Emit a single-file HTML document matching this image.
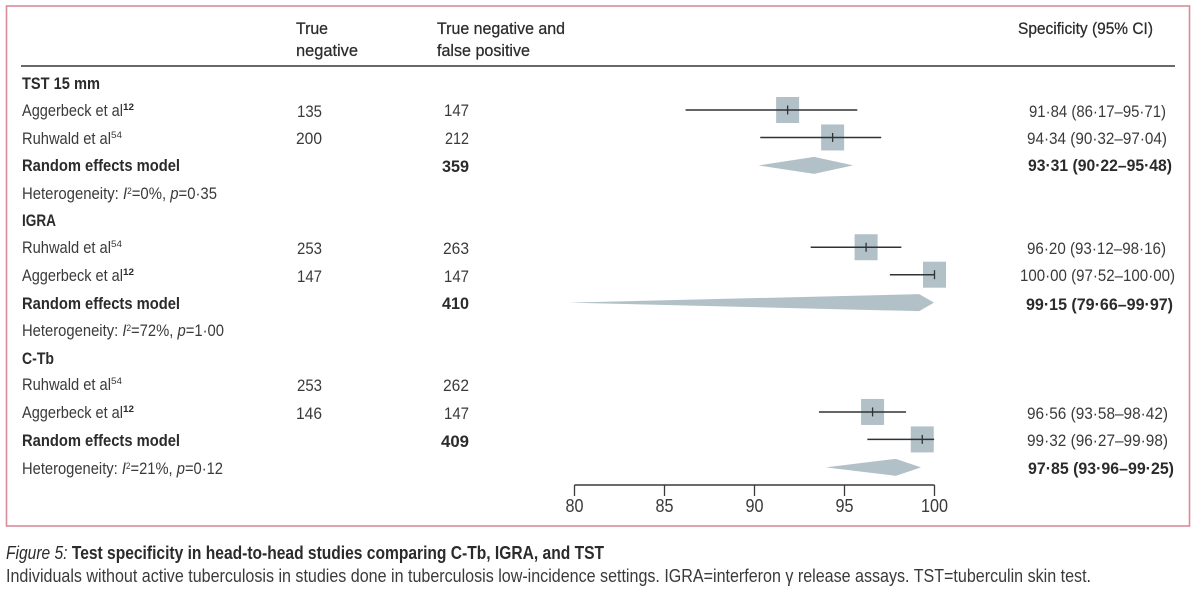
<!DOCTYPE html>
<html lang="en">
<head>
<meta charset="utf-8">
<title>Figure 5: Test specificity forest plot</title>
<style>
html,body{margin:0;padding:0;background:#fff;width:1200px;height:598px;overflow:hidden}
svg{display:block}
text{font-family:"Liberation Sans",sans-serif;font-size:17px;fill:#3a3a3a}
.h{fill:#2b2b2b;stroke:#2b2b2b;stroke-width:.25px}
.b{font-weight:bold;fill:#2b2b2b}
.s{font-size:9.5px}
.i{font-style:italic}
.c{font-size:18px}
</style>
</head>
<body>
<svg id="chart" xmlns="http://www.w3.org/2000/svg" width="1200" height="598" viewBox="0 0 1200 598">
<rect x="6.5" y="6" width="1183" height="520" fill="none" stroke="#d98c9a" stroke-width="1.6"/>
<line x1="21" x2="1175" y1="66" y2="66" stroke="#69696b" stroke-width="2"/>

<text class="h" x="296" y="34" textLength="32" lengthAdjust="spacingAndGlyphs">True</text>
<text class="h" x="296" y="56" textLength="62" lengthAdjust="spacingAndGlyphs">negative</text>
<text class="h" x="437" y="34" textLength="128" lengthAdjust="spacingAndGlyphs">True negative and</text>
<text class="h" x="437" y="56" textLength="93" lengthAdjust="spacingAndGlyphs">false positive</text>
<text class="h" x="1018" y="34" textLength="135" lengthAdjust="spacingAndGlyphs">Specificity (95% CI)</text>

<g>
<text class="b" x="22" y="89" textLength="78" lengthAdjust="spacingAndGlyphs">TST 15 mm</text>
<text x="22" y="116" textLength="101" lengthAdjust="spacingAndGlyphs">Aggerbeck et al</text>
<text class="s b" x="123" y="110" textLength="11" lengthAdjust="spacingAndGlyphs">12</text>
<text x="297" y="117" textLength="25" lengthAdjust="spacingAndGlyphs">135</text>
<text x="444" y="116" textLength="25" lengthAdjust="spacingAndGlyphs">147</text>
<text x="1029" y="117" textLength="137" lengthAdjust="spacingAndGlyphs">91·84 (86·17–95·71)</text>
<text x="22" y="144" textLength="89" lengthAdjust="spacingAndGlyphs">Ruhwald et al</text>
<text class="s" x="111" y="138" textLength="11" lengthAdjust="spacingAndGlyphs">54</text>
<text x="296" y="144" textLength="26" lengthAdjust="spacingAndGlyphs">200</text>
<text x="445" y="144" textLength="24" lengthAdjust="spacingAndGlyphs">212</text>
<text x="1027" y="144" textLength="140" lengthAdjust="spacingAndGlyphs">94·34 (90·32–97·04)</text>
<text class="b" x="22" y="171" textLength="158" lengthAdjust="spacingAndGlyphs">Random effects model</text>
<text class="b" x="442" y="172" textLength="27" lengthAdjust="spacingAndGlyphs">359</text>
<text class="b" x="1028" y="171" textLength="144" lengthAdjust="spacingAndGlyphs">93·31 (90·22–95·48)</text>
<text x="22" y="199" textLength="195" lengthAdjust="spacingAndGlyphs">Heterogeneity: <tspan class="i">I</tspan><tspan dy="-5" class="s">2</tspan><tspan dy="5">=0%, </tspan><tspan class="i">p</tspan>=0·35</text>
</g>

<g>
<text class="b" x="22" y="226" textLength="34" lengthAdjust="spacingAndGlyphs">IGRA</text>
<text x="22" y="253" textLength="89" lengthAdjust="spacingAndGlyphs">Ruhwald et al</text>
<text class="s" x="111" y="247" textLength="11" lengthAdjust="spacingAndGlyphs">54</text>
<text x="297" y="254" textLength="25" lengthAdjust="spacingAndGlyphs">253</text>
<text x="443" y="254" textLength="26" lengthAdjust="spacingAndGlyphs">263</text>
<text x="1027" y="254" textLength="139" lengthAdjust="spacingAndGlyphs">96·20 (93·12–98·16)</text>
<text x="22" y="281" textLength="101" lengthAdjust="spacingAndGlyphs">Aggerbeck et al</text>
<text class="s b" x="123" y="275" textLength="11" lengthAdjust="spacingAndGlyphs">12</text>
<text x="297" y="282" textLength="25" lengthAdjust="spacingAndGlyphs">147</text>
<text x="444" y="282" textLength="25" lengthAdjust="spacingAndGlyphs">147</text>
<text x="1020" y="281" textLength="155" lengthAdjust="spacingAndGlyphs">100·00 (97·52–100·00)</text>
<text class="b" x="22" y="309" textLength="158" lengthAdjust="spacingAndGlyphs">Random effects model</text>
<text class="b" x="442" y="309" textLength="27" lengthAdjust="spacingAndGlyphs">410</text>
<text class="b" x="1026" y="310" textLength="147" lengthAdjust="spacingAndGlyphs">99·15 (79·66–99·97)</text>
<text x="22" y="336" textLength="202" lengthAdjust="spacingAndGlyphs">Heterogeneity: <tspan class="i">I</tspan><tspan dy="-5" class="s">2</tspan><tspan dy="5">=72%, </tspan><tspan class="i">p</tspan>=1·00</text>
</g>

<g>
<text class="b" x="22" y="364" textLength="32" lengthAdjust="spacingAndGlyphs">C-Tb</text>
<text x="22" y="390" textLength="89" lengthAdjust="spacingAndGlyphs">Ruhwald et al</text>
<text class="s" x="111" y="384" textLength="11" lengthAdjust="spacingAndGlyphs">54</text>
<text x="297" y="391" textLength="25" lengthAdjust="spacingAndGlyphs">253</text>
<text x="443" y="391" textLength="26" lengthAdjust="spacingAndGlyphs">262</text>
<text x="22" y="418" textLength="101" lengthAdjust="spacingAndGlyphs">Aggerbeck et al</text>
<text class="s b" x="123" y="412" textLength="11" lengthAdjust="spacingAndGlyphs">12</text>
<text x="296" y="419" textLength="26" lengthAdjust="spacingAndGlyphs">146</text>
<text x="444" y="419" textLength="25" lengthAdjust="spacingAndGlyphs">147</text>
<text x="1027" y="419" textLength="141" lengthAdjust="spacingAndGlyphs">96·56 (93·58–98·42)</text>
<text class="b" x="22" y="446" textLength="158" lengthAdjust="spacingAndGlyphs">Random effects model</text>
<text class="b" x="441" y="447" textLength="28" lengthAdjust="spacingAndGlyphs">409</text>
<text x="1027" y="446" textLength="141" lengthAdjust="spacingAndGlyphs">99·32 (96·27–99·98)</text>
<text x="22" y="474" textLength="201" lengthAdjust="spacingAndGlyphs">Heterogeneity: <tspan class="i">I</tspan><tspan dy="-5" class="s">2</tspan><tspan dy="5">=21%, </tspan><tspan class="i">p</tspan>=0·12</text>
<text class="b" x="1028" y="474" textLength="146" lengthAdjust="spacingAndGlyphs">97·85 (93·96–99·25)</text>
</g>

<g id="marks"></g>
<g id="axis"></g>

<text class="c b" x="6" y="559" textLength="598" lengthAdjust="spacingAndGlyphs"><tspan class="i" font-weight="normal">Figure 5:</tspan> Test specificity in head-to-head studies comparing C-Tb, IGRA, and TST</text>
<text class="c" x="6" y="582" textLength="1085" lengthAdjust="spacingAndGlyphs">Individuals without active tuberculosis in studies done in tuberculosis low-incidence settings. IGRA=interferon γ release assays. TST=tuberculin skin test.</text>
</svg>
<script>
const rowNames = ['tst-aggerbeck','tst-ruhwald','tst-pooled','tst-het','igra-head','igra-ruhwald','igra-aggerbeck','igra-pooled','igra-het','ctb-head','ctb-ruhwald','ctb-aggerbeck','ctb-pooled','ctb-het'];
const studyRows = ['tst-aggerbeck','tst-ruhwald','igra-ruhwald','igra-aggerbeck','ctb-aggerbeck','ctb-pooled'];
const studyEst = [91.84,94.34,96.20,100.00,96.56,99.32];
const studyLo = [86.17,90.32,93.12,97.52,93.58,96.27];
const studyHi = [95.71,97.04,98.16,100.00,98.42,99.98];
const pooledRows = ['tst-pooled','igra-pooled','ctb-het'];
const pooledEst = [93.31,99.15,97.85];
const pooledLo = [90.22,79.66,93.96];
const pooledHi = [95.48,99.97,99.25];
const axisTicks = [80,85,90,95,100];

const NS = 'http://www.w3.org/2000/svg';
const xScale = v => 574.5 + (v - 80) * 18;
const yScale = name => 110 + rowNames.indexOf(name) * 27.45;
function make(tag, attrs, parent) {
  const el = document.createElementNS(NS, tag);
  for (const k in attrs) el.setAttribute(k, attrs[k]);
  parent.appendChild(el);
  return el;
}
const marks = document.getElementById('marks');
const axis = document.getElementById('axis');

studyRows.forEach((row, i) => {
  const y = yScale(row), x = xScale(studyEst[i]);
  const box = make('rect', {x: x - 11.5, y: y - 13, width: 23, height: 26, fill: '#b2c1c8'}, marks);
  
  
  const ci = make('line', {x1: xScale(studyLo[i]), x2: xScale(studyHi[i]), y1: y, y2: y, stroke: '#2f3336', 'stroke-width': 1.5}, marks);
  
  
  const tick = make('line', {x1: x, x2: x, y1: y - 4.5, y2: y + 4.5, stroke: '#2f3336', 'stroke-width': 1.3}, marks);
  
  
});

pooledRows.forEach((row, i) => {
  const y = yScale(row) + 0.5;
  const pts = [[xScale(pooledLo[i]), y], [xScale(pooledEst[i]), y - 8.5], [xScale(pooledHi[i]), y], [xScale(pooledEst[i]), y + 8.5]];
  const d = make('polygon', {points: pts.map(p => p.join(',')).join(' '), fill: '#b2c1c8'}, marks);
  
  
});

const axisLine = make('line', {x1: xScale(axisTicks[0]), x2: xScale(axisTicks[axisTicks.length - 1]), y1: 485, y2: 485, stroke: '#3a3a3a', 'stroke-width': 1.4}, axis);


axisTicks.forEach(t => {
  const tk = make('line', {x1: xScale(t), x2: xScale(t), y1: 485, y2: 496, stroke: '#3a3a3a', 'stroke-width': 1.3}, axis);
  
  
  const lb = make('text', {x: xScale(t), y: 512, 'text-anchor': 'middle', style: 'font-size:18px', textLength: t === 100 ? 27 : 18, lengthAdjust: 'spacingAndGlyphs'}, axis);
  
  
  lb.textContent = t;
});
</script>
</body>
</html>
